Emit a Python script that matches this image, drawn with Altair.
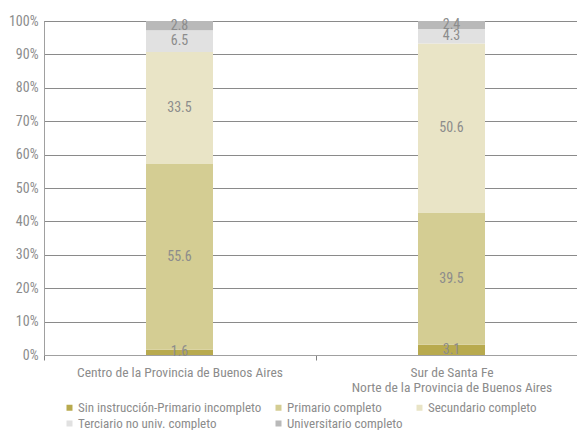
import altair as alt
import pandas as pd

regions = ["Centro de la Provincia de Buenos Aires",
           "Sur de Santa Fe|Norte de la Provincia de Buenos Aires"]
levels = ["Sin instrucción-Primario incompleto", "Primario completo",
          "Secundario completo", "Terciario no univ. completo",
          "Universitario completo"]
values_centro = [1.6, 55.6, 33.5, 6.5, 2.8]
values_sur = [3.1, 39.5, 50.6, 4.3, 2.4]
y_ticks = [0, 0.1, 0.2, 0.3, 0.4, 0.5, 0.6, 0.7, 0.8, 0.9, 1.0]
colors = ["#b8aa4e", "#d4cd93", "#e9e4c6", "#e1e1e1", "#b9b9b9"]

rows = []
for reg, vals in zip(regions, [values_centro, values_sur]):
    for i, (lev, v) in enumerate(zip(levels, vals)):
        rows.append({"region": reg, "level": lev, "value": v, "ord": i})
df = pd.DataFrame(rows)

FONT = "Roboto Condensed, Liberation Sans Narrow, DejaVu Sans Condensed, sans-serif"
TXT = "#8c8c8c"

base = alt.Chart(df).transform_stack(
    stack="value", groupby=["region"], as_=["y0", "y1"],
    sort=[alt.SortField("ord", order="ascending")], offset="normalize"
).transform_calculate(mid="(datum.y0 + datum.y1) / 2")

yscale = alt.Scale(domain=[0, 1], nice=False)
yaxis = alt.Axis(format=".0%", values=y_ticks, labelOverlap=False,
                 labelFont=FONT, labelFontSize=14, labelColor=TXT,
                 ticks=False, labelPadding=6, grid=True,
                 gridColor="#8a8a8a", domainColor="#a0a0a0")

xaxis = alt.Axis(labelExpr="split(datum.label, '|')", labelAngle=0,
                 labelFont=FONT, labelFontSize=13.5, labelColor=TXT,
                 labelPadding=5, labelLineHeight=15, labelLimit=600,
                 domainColor="#a0a0a0", tickColor="#808080",
                 ticks=True, tickBand="extent", tickSize=5, grid=False)
xscale = alt.Scale(range=[-0.5, 543.5], paddingInner=0, paddingOuter=0)

bars = base.mark_bar(size=67).encode(
    x=alt.X("region:N", sort=regions, title=None, scale=xscale, axis=xaxis),
    y=alt.Y("y0:Q", title=None, scale=yscale, axis=yaxis),
    y2="y1:Q",
    color=alt.Color("level:N", sort=levels,
                    scale=alt.Scale(domain=levels, range=colors),
                    legend=alt.Legend(title=None, orient="none", legendX=19,
                                      legendY=380, columns=3, direction="horizontal",
                                      symbolType="square",
                                      symbolSize=36, symbolStrokeWidth=0,
                                      labelFont=FONT, labelFontSize=13,
                                      labelColor=TXT, rowPadding=2,
                                      columnPadding=10, labelOffset=2,
                                      labelLimit=400)),
)

labels = base.mark_text(font=FONT, fontSize=14, color=TXT, baseline="middle").encode(
    x=alt.X("region:N", sort=regions, title=None, scale=xscale, axis=xaxis),
    y=alt.Y("mid:Q", title=None, scale=yscale, axis=yaxis),
    text=alt.Text("value:Q", format=".1f"),
)

chart = (bars + labels).properties(
    width=533, height=334,
    autosize=alt.AutoSizeParams(type="none"),
    padding={"left": 36, "top": 13, "right": 0, "bottom": 75},
).configure_view(stroke=None)

chart.save("out.html", embed_options={"renderer": "svg", "actions": False})
